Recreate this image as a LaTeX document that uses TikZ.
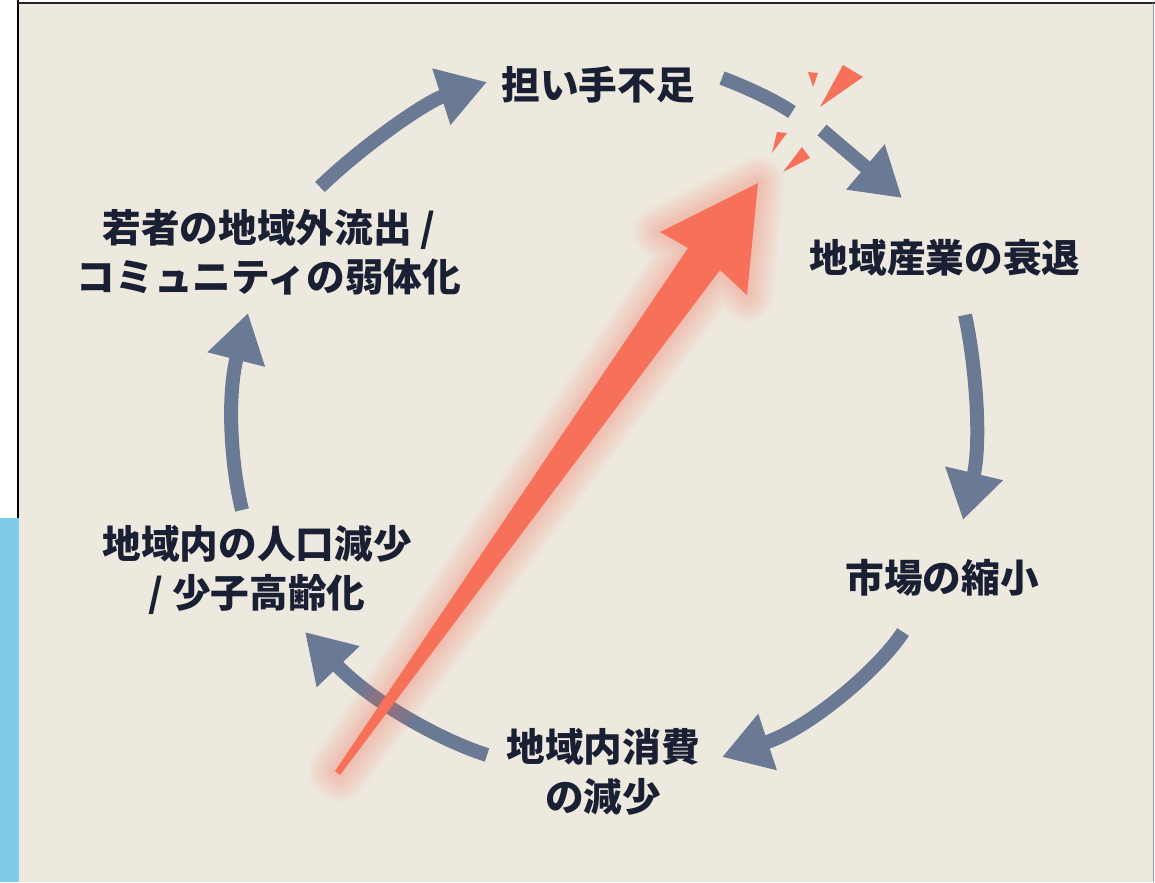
\documentclass[tikz,border=0pt]{standalone}
\usepackage{fontspec}
\newfontfamily\cjk{Noto Sans CJK JP}
\usetikzlibrary{arrows.meta}
\definecolor{bg}{RGB}{238,233,222}
\definecolor{arr}{RGB}{106,122,148}
\definecolor{txt}{RGB}{26,32,52}
\definecolor{hot}{RGB}{246,112,90}
\definecolor{side}{RGB}{127,203,234}
\begin{document}
\begin{tikzpicture}[x=0.75pt,y=-0.75pt,
  lbl/.style={font=\cjk\bfseries\fontsize{29}{37}\selectfont, text=txt, align=center, inner sep=0pt},
  cyc/.style={draw=arr, line width=10.5pt, -{Triangle[length=36pt,width=42pt]}},
  seg/.style={draw=arr, line width=10.5pt},
  spark/.style={fill=hot, draw=none}]
\useasboundingbox (0,0) rectangle (1155,882);
\fill[white] (0,0) rectangle (1155,882);
\fill[side] (0,518) rectangle (19,882);
\fill[bg] (19,3) rectangle (1153,882);
\draw[black, line width=1.3pt] (18,0) -- (18,518);
\draw[black!85, line width=1.3pt] (18,3) -- (1155,3);
\draw[black!40, line width=0.6pt] (1153,3) -- (1153,882);

% labels
\node[lbl] (n1) at (598,85) {担い手不足};
\node[lbl] (n2) at (945,258) {地域産業の衰退};
\node[lbl] (n3) at (942,578) {市場の縮小};
\node[lbl] (n4) at (603,772) {地域内消費\\の減少};
\node[lbl] (n5) at (257,570) {地域内の人口減少\\/ 少子高齢化};
\node[lbl] (n6) at (269,252) {若者の地域外流出 /\\コミュニティの弱体化};

% cycle arrow end points
\coordinate (a1s) at (320,187); \coordinate (a1e) at (487,82);
\coordinate (b1s) at (722,78);  \coordinate (b1e) at (792,112);
\coordinate (b2s) at (822,130); \coordinate (b2e) at (902,198);
\coordinate (a3s) at (965,315); \coordinate (a3e) at (963,520);
\coordinate (a4s) at (903,632); \coordinate (a4e) at (722,757);
\coordinate (a5s) at (487,755); \coordinate (a5e) at (305,632);
\coordinate (a6s) at (242,510); \coordinate (a6e) at (248,313);

\draw[cyc] (a1s) .. controls (360,148) and (425,102) .. (a1e);
\draw[seg] (b1s) .. controls (748,88) and (772,99) .. (b1e);
\draw[cyc] (b2s) -- (b2e);
\draw[cyc] (a3s) .. controls (975,360) and (982,440) .. (a3e);
\draw[cyc] (a4s) .. controls (880,668) and (810,728) .. (a4e);
\draw[cyc] (a5s) .. controls (440,740) and (372,702) .. (a5e);
\draw[cyc] (a6s) .. controls (232,470) and (226,400) .. (a6e);

% sparks
\fill[spark] (808,72) -- (818,73) -- (813,87) -- cycle;
\fill[spark] (843,65) -- (863,77) -- (820,107) -- cycle;
\fill[spark] (777,132) -- (787,133) -- (772,153) -- cycle;
\fill[spark] (783,172) -- (802,147) -- (810,158) -- cycle;

% red arrow with soft glow
\foreach \w in {40,36,...,4}{
  \draw[hot, line width=\w pt, opacity=0.035, line join=round, line cap=round]
    (335,771) -- (688,248) -- (660,232) -- (758,183) -- (747,295) -- (720,270) -- (340,775) -- cycle;
}
\fill[hot] (335,771) -- (688,248) -- (660,232) -- (758,183) -- (747,295) -- (720,270) -- (340,775) -- cycle;
\end{tikzpicture}
\end{document}
